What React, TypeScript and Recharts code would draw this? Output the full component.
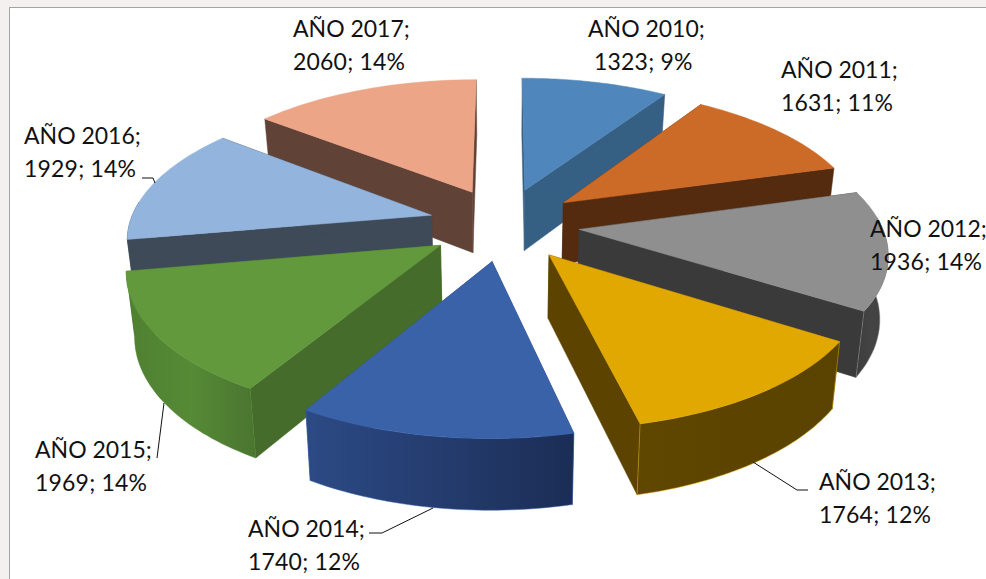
import { PieChart, Pie } from 'recharts';

// values as printed on the data labels
const categories = ['AÑO 2010', 'AÑO 2011', 'AÑO 2012', 'AÑO 2013', 'AÑO 2014', 'AÑO 2015', 'AÑO 2016', 'AÑO 2017'];
const values = [1323, 1631, 1936, 1764, 1740, 1969, 1929, 2060];
const percentLabels = ['9%', '11%', '14%', '12%', '12%', '14%', '14%', '14%'];

const tableData = categories.map((name, i) => ({ name, value: values[i] }));

// colours per slice
const topColors = ['#4f86bb', '#cc6b27', '#8f8f8f', '#e0a800', '#3a62a9', '#62993d', '#93b4dc', '#eca586'];
const sideColors = ['#355f83', '#552b0f', '#3a3a3a', '#5c4400', '#2c4a85', '#466c2b', '#3e4a58', '#604236'];
const wallFrom = ['#355f83', '#552b0f', '#3d3d3d', '#5f4700', '#2c4a85', '#4f8031', '#3e4a58', '#604236'];
const wallMid = ['#355f83', '#552b0f', '#444444', '#5c4400', '#243c6e', '#568a35', '#3e4a58', '#604236'];
const wallTo = ['#355f83', '#552b0f', '#3f3f3f', '#5a4300', '#1b2d55', '#4a7530', '#3e4a58', '#604236'];
const wallEdge = ['#355f83', '#552b0f', '#8f8f8f', '#e0a800', '#3a62a9', '#4f8031', '#3e4a58', '#604236'];

// back to front, so nearer slices cover the ones behind
const paintOrder = [0, 7, 1, 6, 2, 5, 3, 4];

const labelPos = [
  [588, 37], [781, 78], [870, 237], [819, 490], [248, 537], [35, 458], [24, 144], [293, 37],
];
const secondLineX = [594, 781, 870, 819, 248, 35, 24, 293];
const leaders = [
  null, null, null,
  '808,490 797,490 753,462',
  '369,533 382,533 433,508',
  '157,458 164,403',
  '142,178 153,178 155,183',
  null,
];

const CX = 504;
const CY = 224;
const RX = 302;
const RY = 138;
const PERSP = 0.149;
const EXPLODE_X = 0.25;
const EXPLODE_Y = 0.265;

// plane coords (x right, y away from viewer) to screen, z is height below the top face
const project = (x: number, y: number, cx: number, cy: number, rx: number, z = 0) => {
  const s = 1 / (1 + PERSP * y);
  const ry = (rx * RY) / RX;
  const depth = z * Math.pow(s, 0.7);
  const shrink = 1 - 0.022 * z;
  return [cx + rx * x * s * shrink, cy - ry * y * s + depth * 62];
};

const fmt = (p: number[]) => `${p[0].toFixed(1)},${p[1].toFixed(1)}`;

const SliceShape = (props: any, only: number) => {
  const i = categories.indexOf(props.name);
  if (i !== only) return <g />;
  const { cx, cy, outerRadius, startAngle, endAngle } = props;
  const a0 = ((90 - startAngle) * Math.PI) / 180;
  const a1 = ((90 - endAngle) * Math.PI) / 180;
  const mid = (a0 + a1) / 2;
  const ox = EXPLODE_X * Math.sin(mid);
  const oy = EXPLODE_Y * Math.cos(mid);
  const pt = (a: number, r: number, z: number) =>
    project(ox + r * Math.sin(a), oy + r * Math.cos(a), cx, cy, outerRadius, z);

  const steps = 40;
  const arcTop: number[][] = [];
  const wallTop: number[][] = [];
  const wallBottom: number[][] = [];
  for (let k = 0; k <= steps; k++) {
    const a = a0 + ((a1 - a0) * k) / steps;
    arcTop.push(pt(a, 1, 0));
    // the rim only shows where it faces the viewer
    if (Math.cos(a) < 0.1) {
      wallTop.push(pt(a, 1, 0));
      wallBottom.push(pt(a, 1, 1));
    }
  }
  const apexTop = pt(0, 0, 0);
  const apexBottom = pt(0, 0, 1);
  const wallA = [apexTop, pt(a0, 1, 0), pt(a0, 1, 1), apexBottom].map(fmt).join(' ');
  const wallB = [apexTop, pt(a1, 1, 0), pt(a1, 1, 1), apexBottom].map(fmt).join(' ');
  const outer = [...wallTop, ...[...wallBottom].reverse()].map(fmt).join(' ');
  const top = [apexTop, ...arcTop].map(fmt).join(' ');
  const gradId = `wall-${i}`;

  return (
    <g>
      <defs>
        <linearGradient id={gradId} x1="0" y1="0" x2="1" y2="0">
          <stop offset="0%" stopColor={wallFrom[i]} />
          <stop offset="50%" stopColor={wallMid[i]} />
          <stop offset="100%" stopColor={wallTo[i]} />
        </linearGradient>
      </defs>
      <polygon points={wallA} fill={sideColors[i]} stroke={sideColors[i]} strokeWidth={0.5} />
      <polygon points={wallB} fill={sideColors[i]} stroke={sideColors[i]} strokeWidth={0.5} />
      {wallTop.length > 1 && <polygon points={outer} fill={`url(#${gradId})`} stroke={wallEdge[i]} strokeWidth={0.5} />}
      <polygon points={top} fill={topColors[i]} stroke={topColors[i]} strokeWidth={0.5} />
    </g>
  );
};

const renderLabel = (props: any) => {
  const i = categories.indexOf(props.name);
  const [x, y] = labelPos[i];
  return (
    <g key={categories[i]}>
      {leaders[i] && <polyline points={leaders[i] as string} fill="none" stroke="#111" strokeWidth={1} />}
      <text x={x} y={y} fontFamily="Lato" fontSize={23} fill="#111">
        {categories[i]};
      </text>
      <text x={secondLineX[i]} y={y + 33} fontFamily="Lato" fontSize={23} letterSpacing={0.2} fill="#111">
        {values[i]}; {percentLabels[i]}
      </text>
    </g>
  );
};

export default function App() {
  return (
    <div style={{ position: 'absolute', left: 0, top: 0, width: 986, height: 579, background: '#f4f0f0', overflow: 'hidden' }}>
      <div style={{ position: 'absolute', left: 9, top: 7, width: 990, height: 590, background: '#fff', border: '1px solid #a3a3a3' }} />
      <div style={{ position: 'absolute', left: 0, top: 0 }}>
        <PieChart width={986} height={579} margin={{ top: 0, right: 0, bottom: 0, left: 0 }}>
          {paintOrder.map((k, n) => (
            <Pie
              key={k}
              data={tableData}
              dataKey="value"
              nameKey="name"
              cx={CX}
              cy={CY}
              outerRadius={RX}
              startAngle={90}
              endAngle={-270}
              isAnimationActive={false}
              stroke="none"
              shape={(p: any) => SliceShape(p, k)}
              label={n === paintOrder.length - 1 ? renderLabel : false}
              labelLine={false}
            />
          ))}
        </PieChart>
      </div>
    </div>
  );
}
